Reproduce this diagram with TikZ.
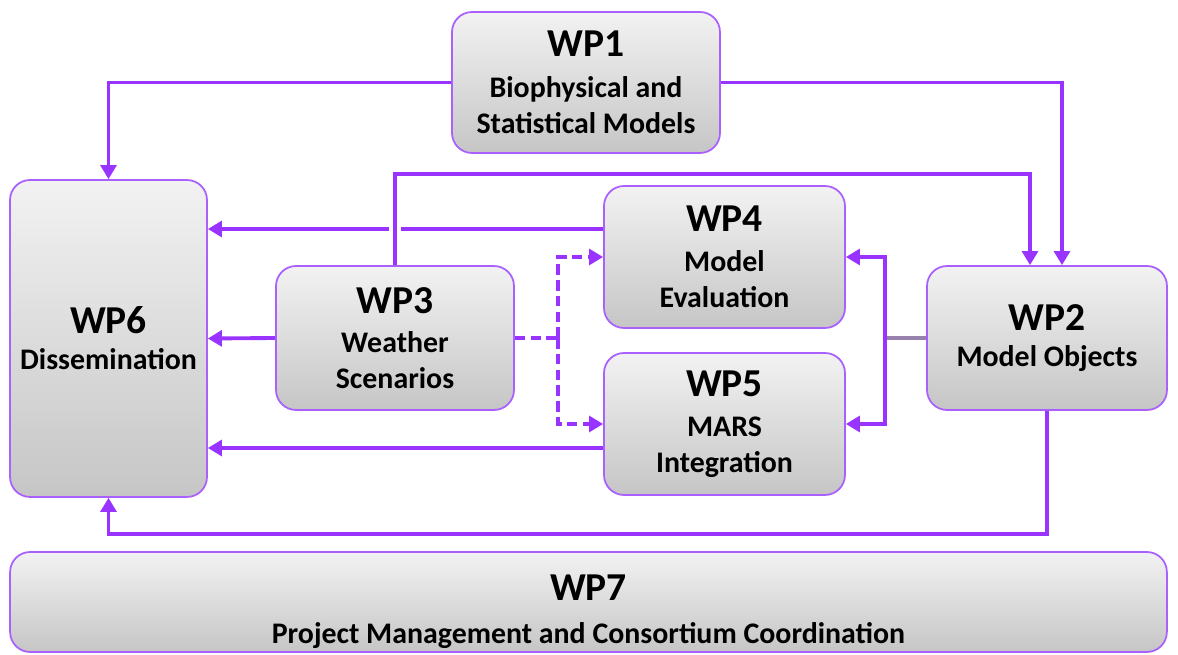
\documentclass[tikz,border=0pt]{standalone}
\usepackage{fontspec}
\setmainfont{Carlito}
\usetikzlibrary{arrows.meta}
\definecolor{wpline}{RGB}{153,51,255}
\definecolor{wpedge}{RGB}{170,95,255}
\definecolor{wpgrey}{RGB}{150,130,170}
\newcommand{\wptitle}[1]{{\fontsize{22.5}{24}\selectfont #1}}
\begin{document}
\begin{tikzpicture}[x=0.02cm,y=-0.02cm,
    wp/.style={draw=wpedge,line width=1pt,rounded corners=0.4cm,
        top color=gray!10,bottom color=gray!45,align=center,
        font=\bfseries\fontsize{17}{20.5}\selectfont,inner sep=0pt},
    link/.style={draw=wpline,line width=2.2pt,-{Triangle[length=8pt,width=9pt]}},
    dlink/.style={link,dash pattern=on 6pt off 3pt}]
    \useasboundingbox (0,0) rectangle (1178,655);
    %% work packages
    \node[wp,minimum width=5.36cm,minimum height=2.82cm] (wp1) at (586,82.5)
        {\wptitle{WP1}\\[3pt] Biophysical and\\ Statistical Models};
    \node[wp,minimum width=3.94cm,minimum height=6.34cm] (wp6) at (108.5,338.5)
        {\wptitle{WP6}\\ Dissemination};
    \node[wp,minimum width=4.76cm,minimum height=2.88cm] (wp3) at (395,338)
        {\wptitle{WP3}\\[2pt] Weather\\ Scenarios};
    \node[wp,minimum width=4.82cm,minimum height=2.84cm] (wp4) at (724.5,257)
        {\wptitle{WP4}\\[2pt] Model\\ Evaluation};
    \node[wp,minimum width=4.82cm,minimum height=2.84cm] (wp5) at (724.5,424)
        {\wptitle{WP5}\\[2pt] MARS\\ Integration};
    \node[wp,minimum width=4.8cm,minimum height=2.88cm] (wp2) at (1047,338)
        {\wptitle{WP2}\\ Model Objects};
    \node[wp,minimum width=23.14cm,minimum height=2.0cm] (wp7) at (588.5,602)
        {\rule{0pt}{26pt}\wptitle{WP7}\\[4pt] Project Management and Consortium Coordination};
    %% junctions
    \coordinate (jl) at (558,338);
    \coordinate (jr) at (885,338);
    \coordinate (o4) at ([yshift=0.56cm]wp4.west);
    \coordinate (o5) at ([yshift=-0.48cm]wp5.west);
    \coordinate (x34) at (o4 -| wp3.north);
    %% WP1 to WP6 and WP2
    \draw[link] (wp1.west) -| (wp6.north);
    \draw[link] (wp1.east) -| ([xshift=0.3cm]wp2.north);
    %% outputs to WP6
    \draw[link] (o4) -- (o4 -| wp6.east);
    \draw[link] (wp3.west) -- (wp6.east);
    \draw[link] (o5) -- (o5 -| wp6.east);
    \draw[link] (wp2.south) -- ++(0,123) -| (wp6.south);
    %% WP3 to WP2, jumping the WP4 line
    \draw[white,line width=7pt] ([yshift=5pt]x34) -- ([yshift=-5pt]x34);
    \draw[link] (wp3.north) -- ++(0,-91) -| ([xshift=-0.34cm]wp2.north);
    %% WP3 to WP4 and WP5
    \draw[dlink,-] (wp3.east) -- (jl);
    \draw[dlink] (jl) |- (wp4.west);
    \draw[dlink] (jl) |- (wp5.west);
    %% WP2 to WP4 and WP5
    \draw[draw=wpgrey,line width=2.2pt] (wp2.west) -- (jr);
    \draw[link] (jr) |- (wp4.east);
    \draw[link] (jr) |- (wp5.east);
\end{tikzpicture}
\end{document}
